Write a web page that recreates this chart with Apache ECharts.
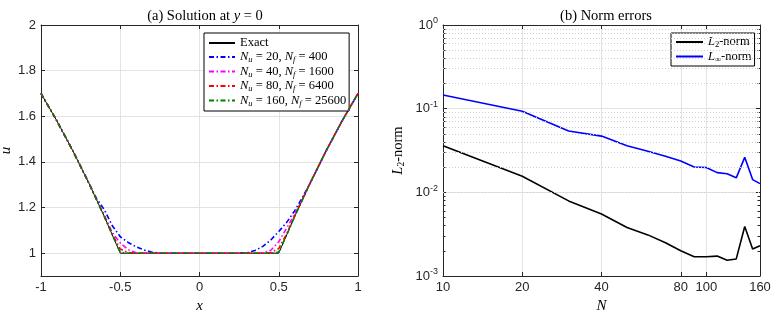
<!DOCTYPE html>
<html><head><meta charset="utf-8">
<script src="https://cdn.jsdelivr.net/npm/echarts@6/dist/echarts.min.js"></script>
<style>html,body{margin:0;padding:0;background:#fff}#c{width:782px;height:314px}</style>
</head><body><div id="c"></div>
<script>
// ---- Panel (a) data ----
const xVals   = [-1,-0.9,-0.8,-0.7,-0.65,-0.6,-0.55,-0.5,-0.45,-0.4,-0.35,-0.3,-0.25,-0.2,0,0.2,0.25,0.3,0.35,0.4,0.45,0.5,0.55,0.6,0.65,0.7,0.8,0.9,1];
const exactU  = [1.70,1.58,1.45,1.31,1.235,1.16,1.08,1.00,1,1,1,1,1,1,1,1,1,1,1,1,1,1.00,1.08,1.16,1.235,1.31,1.45,1.58,1.70];
const u20     = [1.70,1.58,1.45,1.31,1.24,1.19,1.12,1.072,1.047,1.028,1.014,1.004,1.0,1.0,1.0,1.0,1.0,1.002,1.012,1.03,1.058,1.095,1.135,1.185,1.245,1.31,1.45,1.58,1.70];
const u40     = [1.70,1.58,1.45,1.31,1.235,1.165,1.09,1.045,1.015,1.002,1,1,1,1,1,1,1,1,1,1.002,1.013,1.05,1.11,1.17,1.238,1.31,1.45,1.58,1.70];
const u80     = [1.70,1.58,1.45,1.31,1.235,1.16,1.082,1.018,1.003,1,1,1,1,1,1,1,1,1,1,1,1.003,1.02,1.085,1.162,1.236,1.31,1.45,1.58,1.70];
const u160    = [1.70,1.58,1.45,1.31,1.235,1.16,1.08,1.004,1,1,1,1,1,1,1,1,1,1,1,1,1,1.005,1.08,1.16,1.235,1.31,1.45,1.58,1.70];
const aXTicks = [-1,-0.5,0,0.5,1];
const aYTicks = [1,1.2,1.4,1.6,1.8,2];

// ---- Panel (b) data ----
const nVals   = [10,20,30,40,50,60,70,80,90,100,110,120,130,140,150,160];
const l2Err   = [0.036,0.0156,0.0079,0.0055,0.0038,0.0031,0.0025,0.0020,0.0017,0.0017,0.00173,0.00154,0.0016,0.0039,0.0021,0.0023];
const linfErr = [0.146,0.093,0.054,0.047,0.036,0.031,0.027,0.0237,0.0201,0.0198,0.0172,0.0167,0.0149,0.0262,0.0142,0.0127];
const bXTicks = [10,20,40,80,100,160];
const bYTicks = [0.001,0.01,0.1,1];
const bYMinor = [0.002,0.003,0.004,0.005,0.006,0.007,0.008,0.009,0.02,0.03,0.04,0.05,0.06,0.07,0.08,0.09,0.2,0.3,0.4,0.5,0.6,0.7,0.8,0.9];

const SERIF = 'Liberation Serif';
const SANS = 'Liberation Sans';
const FRAME = '#262626';
const GRIDC = '#e3e3e3';
const LFS = 12.5;

const subRich = {
  i: {fontFamily: SERIF, fontStyle: 'italic', fontSize: LFS, color: '#000'},
  t: {fontFamily: SERIF, fontSize: LFS, color: '#000'},
  sb: {fontFamily: SERIF, fontStyle: 'italic', fontSize: 8.5, color: '#000', padding: [6,0,0,0]},
  sn: {fontFamily: SERIF, fontSize: 8.5, color: '#000', padding: [6,0,0,0]}
};

function pair(a, b) { return [a, b]; }
function zipData(xs, ys) { return xs.map((x, k) => pair(x, ys[k])); }

const legendNames = {
  'Exact': '{t|Exact}',
  'n20': '{i|N}{sb|u}{t| = 20, }{i|N}{sb|f}{t| = 400}',
  'n40': '{i|N}{sb|u}{t| = 40, }{i|N}{sb|f}{t| = 1600}',
  'n80': '{i|N}{sb|u}{t| = 80, }{i|N}{sb|f}{t| = 6400}',
  'n160': '{i|N}{sb|u}{t| = 160, }{i|N}{sb|f}{t| = 25600}',
  'L2': '{i|L}{sn|2}{t|-norm}',
  'Linf': '{i|L}{sn|∞}{t|-norm}'
};

const dashDot = [5, 2.5, 1.5, 2.5];
function lineSeries(name, data, color, width, type, xi, yi, z) {
  return {
    name, type: 'line', xAxisIndex: xi, yAxisIndex: yi, data,
    symbol: 'none', showSymbol: false, z: z, animation: false,
    lineStyle: {color, width, type},
    itemStyle: {color}
  };
}

const boxAxisX = (gi, extra) => Object.assign({
  gridIndex: gi, position: 'top', axisLine: {show: true, onZero: false, lineStyle: {color: FRAME, width: 1}},
  axisLabel: {show: false}, splitLine: {show: false}
}, extra);
const boxAxisY = (gi, extra) => Object.assign({
  gridIndex: gi, position: 'right', axisLine: {show: true, onZero: false, lineStyle: {color: FRAME, width: 1}},
  axisLabel: {show: false}, splitLine: {show: false}
}, extra);
const tickOf = vals => ({show: true, inside: true, length: 4, customValues: vals, lineStyle: {color: FRAME}});

const labelStyle = {fontFamily: SANS, fontSize: 13, color: '#262626'};
const legendCommon = {
  orient: 'vertical', itemHeight: 10, itemGap: 0,
  borderColor: '#000', borderWidth: 1, backgroundColor: '#fff',
  itemStyle: {opacity: 0},
  formatter: n => legendNames[n],
  textStyle: {fontFamily: SERIF, fontSize: LFS, lineHeight: 14, color: '#000', rich: subRich}
};

const option = {
  animation: false,
  backgroundColor: '#fff',
  title: [
    {text: '(a) Solution at {i|y} = 0', left: 200, top: 4, textAlign: 'center',
     textStyle: {fontFamily: SERIF, fontSize: 14.5, fontWeight: 'normal', color: '#000',
       rich: {i: {fontFamily: SERIF, fontStyle: 'italic', fontSize: 14.5, color: '#000'},
              t: {fontFamily: SERIF, fontSize: 14.5, color: '#000'}}}},
    {text: '(b) Norm errors', left: 601, top: 4, textAlign: 'center',
     textStyle: {fontFamily: SERIF, fontSize: 14.5, fontWeight: 'normal', color: '#000'}}
  ],
  grid: [
    {left: 41, top: 25, width: 317, height: 251, containLabel: false, outerBoundsMode: 'none'},
    {left: 443, top: 25, width: 317, height: 251, containLabel: false, outerBoundsMode: 'none'}
  ],
  legend: [
    Object.assign({left: 204, top: 33, data: ['Exact','n20','n40','n80','n160'],
      itemWidth: 26, padding: [3, 3, 3, 4]}, legendCommon),
    Object.assign({left: 671, top: 33, data: ['L2','Linf'],
      itemWidth: 27, padding: [2, 3, 2, 4]}, legendCommon)
  ],
  xAxis: [
    {gridIndex: 0, type: 'value', min: -1, max: 1, position: 'bottom',
     name: 'x', nameLocation: 'middle', nameGap: 19,
     nameTextStyle: {fontFamily: SERIF, fontStyle: 'italic', fontSize: 15, color: '#000'},
     axisLine: {show: true, onZero: false, lineStyle: {color: FRAME}},
     axisTick: tickOf(aXTicks),
     axisLabel: {customValues: aXTicks, ...labelStyle, margin: 5},
     splitLine: {show: true, lineStyle: {color: GRIDC, width: 1}}},
    boxAxisX(0, {type: 'value', min: -1, max: 1, axisTick: tickOf(aXTicks)}),
    {gridIndex: 1, type: 'log', logBase: 10, min: 10, max: 160, position: 'bottom',
     name: 'N', nameLocation: 'middle', nameGap: 19,
     nameTextStyle: {fontFamily: SERIF, fontStyle: 'italic', fontSize: 15, color: '#000'},
     axisLine: {show: true, onZero: false, lineStyle: {color: FRAME}},
     axisTick: tickOf(bXTicks),
     axisLabel: {customValues: bXTicks, ...labelStyle, margin: 5},
     splitLine: {show: true, lineStyle: {color: GRIDC, width: 1}},
     minorTick: {show: false}},
    boxAxisX(1, {type: 'log', logBase: 10, min: 10, max: 160, axisTick: tickOf(bXTicks)})
  ],
  yAxis: [
    {gridIndex: 0, type: 'value', min: 0.9, max: 2, position: 'left',
     name: 'u', nameLocation: 'middle', nameGap: 26,
     nameTextStyle: {fontFamily: SERIF, fontStyle: 'italic', fontSize: 15, color: '#000'},
     axisLine: {show: true, onZero: false, lineStyle: {color: FRAME}},
     axisTick: tickOf(aYTicks),
     axisLabel: {customValues: aYTicks, ...labelStyle, margin: 5, formatter: v => String(+v.toFixed(1))},
     splitLine: {show: true, lineStyle: {color: GRIDC, width: 1}}},
    boxAxisY(0, {type: 'value', min: 0.9, max: 2, axisTick: tickOf(aYTicks)}),
    {gridIndex: 1, type: 'log', logBase: 10, min: 0.001, max: 1, position: 'left',
     name: '{i|L}{s|2}{t|-norm}', nameLocation: 'middle', nameGap: 37,
     nameTextStyle: {fontFamily: SERIF, fontSize: 14, color: '#000',
       rich: {i: {fontFamily: SERIF, fontStyle: 'italic', fontSize: 14.5, color: '#000'},
              t: {fontFamily: SERIF, fontSize: 14.5, color: '#000'},
              s: {fontFamily: SERIF, fontSize: 9.5, color: '#000', padding: [6,0,0,0]}}},
     axisLine: {show: true, onZero: false, lineStyle: {color: FRAME}},
     axisTick: tickOf(bYTicks),
     axisLabel: {customValues: bYTicks, margin: 5,
       formatter: v => '{b|10}{s|' + Math.round(Math.log10(v)) + '}',
       rich: {b: {fontFamily: SANS, fontSize: 13, color: '#262626'},
              s: {fontFamily: SANS, fontSize: 9, color: '#262626', padding: [0,0,8,0]}}},
     splitLine: {show: true, lineStyle: {color: GRIDC, width: 1}}},
    boxAxisY(1, {type: 'log', logBase: 10, min: 0.001, max: 1, axisTick: tickOf(bYTicks)}),
    // minor ticks left & right of panel (b)
    {gridIndex: 1, type: 'log', logBase: 10, min: 0.001, max: 1, position: 'left',
     axisLine: {show: false, onZero: false}, axisLabel: {show: false}, splitLine: {show: false},
     axisTick: {show: true, inside: true, length: 2.5, customValues: bYMinor, lineStyle: {color: FRAME}}},
    {gridIndex: 1, type: 'log', logBase: 10, min: 0.001, max: 1, position: 'right',
     axisLine: {show: false, onZero: false}, axisLabel: {show: false}, splitLine: {show: false},
     axisTick: {show: true, inside: true, length: 2.5, customValues: bYMinor, lineStyle: {color: FRAME}}}
  ],
  series: [
    lineSeries('Exact', zipData(xVals, exactU), '#000000', 1, 'solid', 0, 0, 2),
    lineSeries('n20', zipData(xVals, u20), '#0000ff', 1.6, dashDot, 0, 0, 3),
    lineSeries('n40', zipData(xVals, u40), '#ff00ff', 1.6, dashDot, 0, 0, 4),
    lineSeries('n80', zipData(xVals, u80), '#ff0000', 1.6, dashDot, 0, 0, 5),
    lineSeries('n160', zipData(xVals, u160), '#008000', 1.6, dashDot, 0, 0, 6),
    Object.assign(lineSeries('minorGrid', [], '#000', 1, 'solid', 2, 2, 1), {
      markLine: {silent: true, symbol: ['none','none'], animation: false,
        label: {show: false},
        lineStyle: {color: '#cfcfcf', type: [1, 2], width: 1},
        data: bYMinor.map(v => ({yAxis: v}))}
    }),
    lineSeries('L2', zipData(nVals, l2Err), '#000000', 1.6, 'solid', 2, 2, 3),
    lineSeries('Linf', zipData(nVals, linfErr), '#0000ff', 1.6, 'solid', 2, 2, 3)
  ]
};

const chart = echarts.init(document.getElementById('c'), null, {renderer: 'canvas'});
chart.setOption(option);
</script></body></html>
